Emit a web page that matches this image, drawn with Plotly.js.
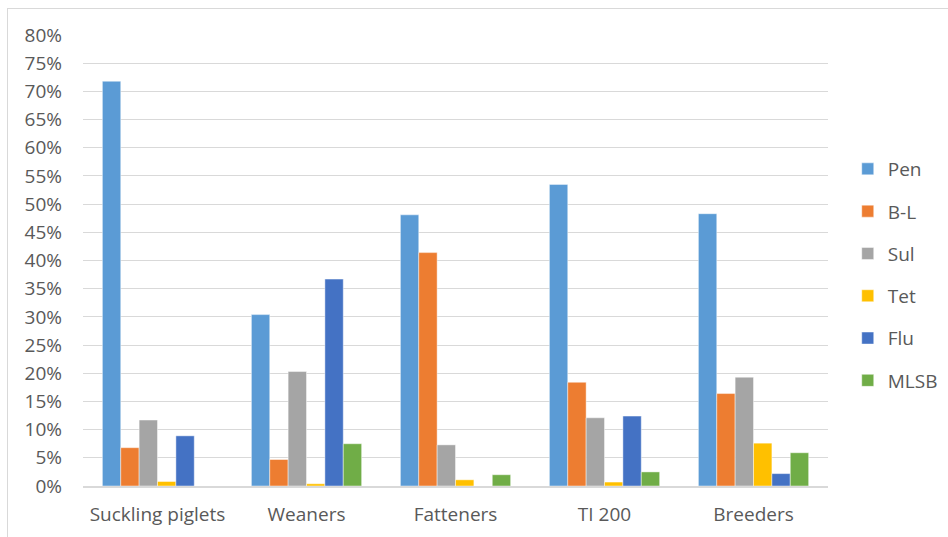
<!DOCTYPE html>
<html>
<head>
<meta charset="utf-8">
<script src="https://cdn.plot.ly/plotly-3.0.1.min.js"></script>
<style>
  html, body { margin: 0; padding: 0; background: #ffffff; }
  #frame { position: absolute; left: 7px; top: 8px; width: 1000px; height: 600px;
           border-left: 1px solid #d9d9d9; border-top: 1px solid #d9d9d9; }
  #chart { position: absolute; left: 0; top: 0; width: 948px; height: 537px; }
</style>
</head>
<body>
<div id="frame"></div>
<div id="chart"></div>
<script>
const categories = ["Suckling piglets", "Weaners", "Fatteners", "TI 200", "Breeders"];
const seriesNames = ["Pen", "B-L", "Sul", "Tet", "Flu", "MLSB"];
const pen  = [0.718, 0.304, 0.481, 0.535, 0.483];
const bl   = [0.068, 0.047, 0.414, 0.184, 0.164];
const sul  = [0.117, 0.203, 0.073, 0.121, 0.193];
const tet  = [0.008, 0.004, 0.011, 0.007, 0.076];
const flu  = [0.089, 0.367, 0.000, 0.124, 0.022];
const mlsb = [0.000, 0.075, 0.020, 0.025, 0.059];
const colors = ["#5B9BD5", "#ED7D31", "#A5A5A5", "#FFC000", "#4472C4", "#70AD47"];
const tickVals = [0,0.05,0.1,0.15,0.2,0.25,0.3,0.35,0.4,0.45,0.5,0.55,0.6,0.65,0.7,0.75,0.8];
const tickText = ["0%","5%","10%","15%","20%","25%","30%","35%","40%","45%","50%","55%","60%","65%","70%","75%","80%"];

const values = [pen, bl, sul, tet, flu, mlsb];
const font = "'Open Sans', 'Noto Sans', sans-serif";

const data = values.map((v, i) => ({
  type: "bar",
  name: seriesNames[i],
  x: categories,
  y: v,
  legendgroup: "g" + i,
  marker: { color: colors[i], line: { color: "rgba(255,255,255,0.6)", width: 0.75 } },
  hoverinfo: "x+y+name"
}));

const layout = {
  width: 948,
  height: 537,
  margin: { l: 83, r: 0, t: 35, b: 51 },
  paper_bgcolor: "rgba(0,0,0,0)",
  plot_bgcolor: "rgba(0,0,0,0)",
  barmode: "group",
  bargap: 0.26,
  bargroupgap: 0,
  font: { family: font, size: 19, color: "#595959" },
  xaxis: {
    type: "category",
    domain: [0, 0.8613],
    showgrid: false,
    showline: true,
    linecolor: "#d9d9d9",
    linewidth: 1.5,
    ticks: "",
    ticklabelstandoff: 11,
    tickfont: { family: font, size: 19, color: "#595959" }
  },
  yaxis: {
    range: [0, 0.8],
    tickvals: tickVals,
    ticktext: tickText,
    showgrid: true,
    gridcolor: "#d9d9d9",
    gridwidth: 1,
    zeroline: false,
    showline: false,
    ticks: "",
    ticklabelstandoff: 20,
    tickfont: { family: font, size: 19, color: "#595959" }
  },
  showlegend: true,
  legend: {
    x: 0.8841,
    xanchor: "left",
    y: 0.745,
    yanchor: "top",
    traceorder: "grouped",
    tracegroupgap: 14.6,
    font: { family: font, size: 19, color: "#595959" },
    bgcolor: "rgba(0,0,0,0)"
  }
};

Plotly.newPlot("chart", data, layout, { displayModeBar: false, staticPlot: true });
</script>
</body>
</html>
